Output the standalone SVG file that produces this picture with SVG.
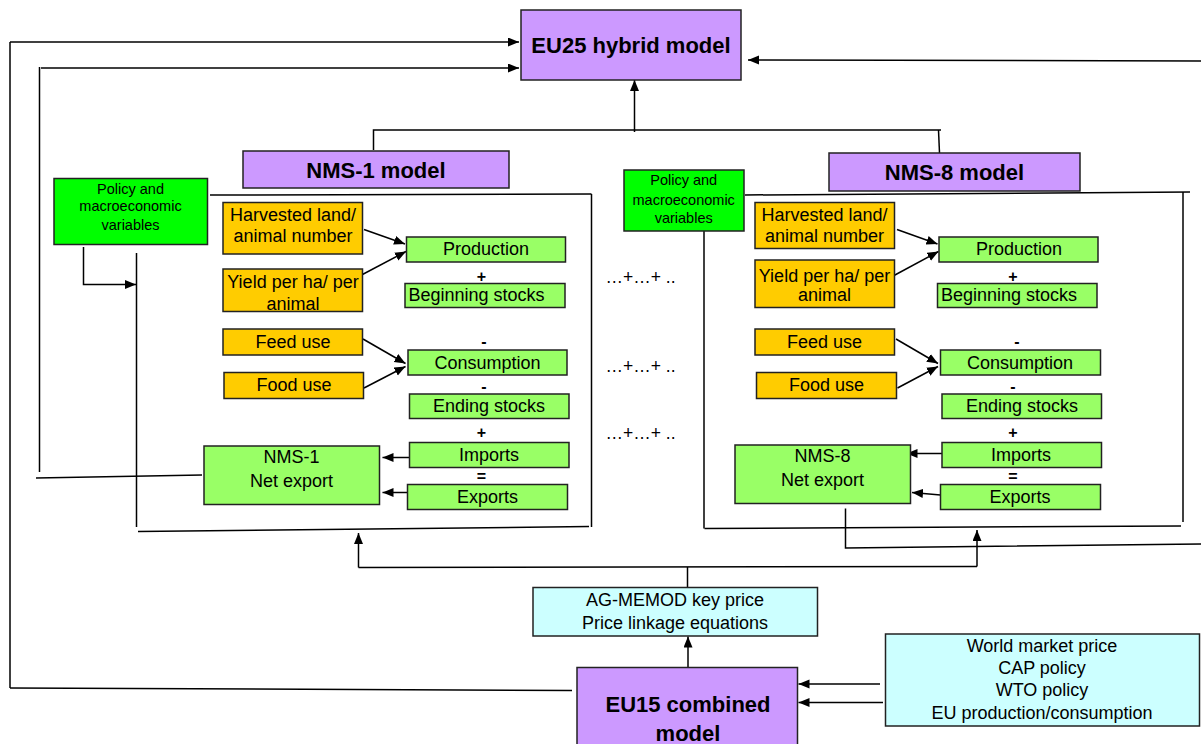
<svg xmlns="http://www.w3.org/2000/svg" width="1201" height="744" viewBox="0 0 1201 744">
<defs>
<marker id="ah" markerUnits="userSpaceOnUse" markerWidth="12" markerHeight="10" refX="11" refY="4.5" orient="auto">
<path d="M0,0 L11,4.5 L0,9 z" fill="#000"/>
</marker>
<style>
.box{stroke:#222;stroke-width:1.5}
.pur{fill:#CC99FF}
.org{fill:#FFCC00}
.grn{fill:#99FF66}
.pol{fill:#00FF00}
.cyn{fill:#CCFFFF}
text{font-family:"Liberation Sans",Arial,sans-serif;fill:#000;text-anchor:middle}
.t{font-size:18px}
.s{font-size:14.5px}
.b{font-size:22px;font-weight:bold}
.sg{font-size:16px;font-weight:bold}
.d{font-size:17.5px;text-anchor:start}
.ln{fill:none;stroke:#000;stroke-width:1.5}
.ar{fill:none;stroke:#000;stroke-width:1.5;marker-end:url(#ah)}
</style>
</defs>
<rect width="1201" height="744" fill="#fff"/>

<g id="connectors">
<polyline class="ln" points="10,688 10,42"/>
<line class="ar" x1="10" y1="42" x2="519" y2="42"/>
<line class="ln" x1="572" y1="690.5" x2="10" y2="688"/>
<polyline class="ln" points="39.5,472 39.5,67"/>
<line class="ar" x1="41" y1="68" x2="519" y2="68"/>
<line class="ln" x1="36" y1="478" x2="202" y2="475"/>
<line class="ar" x1="1201" y1="61" x2="748" y2="60"/>
<polyline class="ln" points="373.5,150 373.5,130 941,130"/>
<line class="ln" x1="938.5" y1="130" x2="939.5" y2="153"/>
<line class="ar" x1="634.5" y1="132" x2="634.5" y2="80"/>
<line class="ln" x1="210" y1="195" x2="591.5" y2="194"/>
<line class="ln" x1="591.5" y1="194" x2="591.5" y2="527"/>
<line class="ln" x1="138" y1="531.5" x2="589" y2="526.5"/>
<line class="ln" x1="136.5" y1="253" x2="136.5" y2="527"/>
<polyline class="ar" points="83.5,247 83.5,284.5 136,284.5"/>
<line class="ln" x1="745" y1="195" x2="1190" y2="192"/>
<line class="ln" x1="1183" y1="192" x2="1183" y2="522"/>
<line class="ln" x1="704.5" y1="528.5" x2="1181" y2="526"/>
<line class="ln" x1="704" y1="231" x2="704" y2="528.5"/>
<line class="ar" x1="364" y1="229.5" x2="405" y2="244"/>
<line class="ar" x1="361.5" y1="275" x2="406" y2="251.5"/>
<line class="ar" x1="363" y1="339" x2="405.5" y2="363.5"/>
<line class="ar" x1="364" y1="388" x2="405.5" y2="366.5"/>
<line class="ar" x1="409.5" y1="457.5" x2="382.5" y2="457.5"/>
<line class="ar" x1="407.5" y1="492.5" x2="382.5" y2="492.5"/>
<line class="ar" x1="897" y1="229.5" x2="937.5" y2="244"/>
<line class="ar" x1="894" y1="275.5" x2="938.5" y2="251.5"/>
<line class="ar" x1="896" y1="339" x2="938" y2="363.5"/>
<line class="ar" x1="897.5" y1="388" x2="938" y2="366.5"/>
<line class="ar" x1="942" y1="453.5" x2="906.5" y2="453.5"/>
<line class="ar" x1="940.5" y1="495" x2="912" y2="492.5"/>
<polyline class="ln" points="845.5,508.5 845.5,548 1201,544"/>
<line class="ln" x1="358.5" y1="567.5" x2="977" y2="566.5"/>
<line class="ar" x1="358.5" y1="567.5" x2="358.5" y2="533"/>
<line class="ar" x1="977" y1="566.5" x2="977" y2="530"/>
<line class="ln" x1="687.5" y1="567" x2="687.5" y2="587"/>
<line class="ar" x1="688" y1="667" x2="688" y2="636.5"/>
<line class="ar" x1="880" y1="684" x2="798.5" y2="684"/>
<line class="ar" x1="883" y1="702.5" x2="798.5" y2="702.5"/>
</g>

<g id="eu25">
<rect class="box pur" x="521" y="10" width="220" height="70"/>
<text class="b" x="631" y="53">EU25 hybrid model</text>
</g>
<g id="nms1-model">
<rect class="box pur" x="243" y="151" width="266" height="37"/>
<text class="b" x="376" y="177.5">NMS-1 model</text>
</g>
<g id="nms8-model">
<rect class="box pur" x="829" y="153" width="251" height="38"/>
<text class="b" x="954.5" y="180">NMS-8 model</text>
</g>

<g id="policy-1">
<rect class="box pol" x="54" y="178.5" width="153.5" height="66"/>
<text class="s" x="130.5" y="193.5">Policy and</text>
<text class="s" x="130.5" y="211">macroeconomic</text>
<text class="s" x="130.5" y="229.5">variables</text>
</g>
<g id="policy-8">
<rect class="box pol" x="624" y="170" width="120" height="61"/>
<text class="s" x="683.7" y="185">Policy and</text>
<text class="s" x="683.7" y="204.5">macroeconomic</text>
<text class="s" x="683.7" y="222.5">variables</text>
</g>

<g id="harvested-1">
<rect class="box org" x="223" y="202.5" width="139.5" height="51.5"/>
<text class="t" x="293" y="220.5">Harvested land/</text>
<text class="t" x="293" y="242">animal number</text>
</g>
<g id="yield-1">
<rect class="box org" x="223" y="269" width="139.5" height="42.5"/>
<text class="t" x="293" y="287.5">Yield per ha/ per</text>
<text class="t" x="293" y="309.5">animal</text>
</g>
<g id="feed-1">
<rect class="box org" x="223" y="329" width="139.5" height="26"/>
<text class="t" x="293" y="347.5">Feed use</text>
</g>
<g id="food-1">
<rect class="box org" x="224" y="372.5" width="139.5" height="26"/>
<text class="t" x="294" y="391">Food use</text>
</g>
<g id="production-1">
<rect class="box grn" x="406.5" y="237" width="159" height="25"/>
<text class="t" x="486" y="254.5">Production</text>
</g>
<text class="sg" x="481.5" y="281.5">+</text>
<g id="beginning-1">
<rect class="box grn" x="405" y="283.5" width="160" height="24"/>
<text class="t" x="476.5" y="300.5">Beginning stocks</text>
</g>
<text class="sg" x="484" y="346.5">-</text>
<g id="consumption-1">
<rect class="box grn" x="408" y="350" width="159" height="25"/>
<text class="t" x="487.5" y="368.5">Consumption</text>
</g>
<text class="sg" x="484" y="391.5">-</text>
<g id="ending-1">
<rect class="box grn" x="409.5" y="394" width="159.5" height="24.5"/>
<text class="t" x="489" y="412">Ending stocks</text>
</g>
<text class="sg" x="481.5" y="438">+</text>
<g id="imports-1">
<rect class="box grn" x="409.5" y="442.5" width="159.5" height="25"/>
<text class="t" x="489" y="460.5">Imports</text>
</g>
<text class="sg" x="481.5" y="482">=</text>
<g id="exports-1">
<rect class="box grn" x="407.5" y="484.5" width="160" height="25"/>
<text class="t" x="487.5" y="502.5">Exports</text>
</g>
<g id="netexport-1">
<rect class="box grn" x="204" y="446" width="175.5" height="58.5"/>
<text class="t" x="291.5" y="463">NMS-1</text>
<text class="t" x="291.5" y="486.5">Net export</text>
</g>

<text class="d" x="605.5" y="282.5">…+…+ ..</text>
<text class="d" x="605.5" y="372">…+…+ ..</text>
<text class="d" x="605.5" y="438.5">…+…+ ..</text>

<g id="harvested-8">
<rect class="box org" x="755" y="202.5" width="139.5" height="46"/>
<text class="t" x="824.5" y="220.5">Harvested land/</text>
<text class="t" x="824.5" y="242">animal number</text>
</g>
<g id="yield-8">
<rect class="box org" x="755" y="260" width="139.5" height="47.5"/>
<text class="t" x="824.5" y="282">Yield per ha/ per</text>
<text class="t" x="824.5" y="301">animal</text>
</g>
<g id="feed-8">
<rect class="box org" x="755" y="329" width="139.5" height="26"/>
<text class="t" x="824.5" y="347.5">Feed use</text>
</g>
<g id="food-8">
<rect class="box org" x="756.5" y="372.5" width="140" height="26"/>
<text class="t" x="826.5" y="391">Food use</text>
</g>
<g id="production-8">
<rect class="box grn" x="939" y="237" width="159" height="25"/>
<text class="t" x="1019" y="254.5">Production</text>
</g>
<text class="sg" x="1013" y="281.5">+</text>
<g id="beginning-8">
<rect class="box grn" x="937.5" y="283.5" width="159.5" height="24"/>
<text class="t" x="1009" y="300.5">Beginning stocks</text>
</g>
<text class="sg" x="1017" y="346.5">-</text>
<g id="consumption-8">
<rect class="box grn" x="940.5" y="350" width="160" height="25"/>
<text class="t" x="1020" y="368.5">Consumption</text>
</g>
<text class="sg" x="1013" y="391.5">-</text>
<g id="ending-8">
<rect class="box grn" x="942" y="394" width="159.5" height="24.5"/>
<text class="t" x="1022" y="412">Ending stocks</text>
</g>
<text class="sg" x="1013" y="438">+</text>
<g id="imports-8">
<rect class="box grn" x="942" y="442.5" width="159.5" height="25"/>
<text class="t" x="1021" y="460.5">Imports</text>
</g>
<text class="sg" x="1013" y="482">=</text>
<g id="exports-8">
<rect class="box grn" x="940.5" y="484.5" width="160" height="25"/>
<text class="t" x="1020" y="502.5">Exports</text>
</g>
<g id="netexport-8">
<rect class="box grn" x="735" y="445" width="175.5" height="58.5"/>
<text class="t" x="822.5" y="462">NMS-8</text>
<text class="t" x="822.5" y="485.5">Net export</text>
</g>

<g id="agmemod">
<rect class="box cyn" x="533" y="587.5" width="284.5" height="48.5"/>
<text class="t" x="675" y="605.5">AG-MEMOD key price</text>
<text class="t" x="675" y="628.5">Price linkage equations</text>
</g>
<g id="eu15">
<rect class="box pur" x="577" y="667.5" width="220.5" height="85"/>
<text class="b" x="688" y="712">EU15 combined</text>
<text class="b" x="688" y="741">model</text>
</g>
<g id="world">
<rect class="box cyn" x="885.5" y="634" width="314" height="92"/>
<text class="t" x="1042" y="652">World market price</text>
<text class="t" x="1042" y="673.5">CAP policy</text>
<text class="t" x="1042" y="696">WTO policy</text>
<text class="t" x="1042" y="718.5">EU production/consumption</text>
</g>
</svg>
